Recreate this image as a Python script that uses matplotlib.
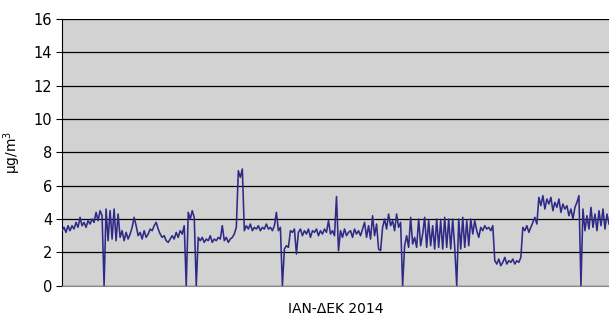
import numpy as np
import matplotlib.pyplot as plt

# concentration, one value per ~2 px step (Jan -> Dec)
conc = [
    3.3, 3.5, 3.2, 3.6, 3.3,
    3.6, 3.4, 3.8, 3.5, 4.1, 3.6, 3.8, 3.5, 3.9, 3.7,
    4.0, 3.8, 4.4, 3.9, 4.5, 4.2,
    0.0,
    4.6, 2.7, 4.5, 2.8, 4.6, 2.7, 4.3, 2.9,
    3.3, 2.7, 3.2, 2.8, 3.1,
    3.5, 4.1, 3.6, 3.0,
    3.2, 2.8, 3.3, 2.9, 3.1, 3.4, 3.3,
    3.6, 3.8, 3.4,
    3.1, 2.9, 3.0, 2.7, 2.6, 2.8,
    3.0, 2.8, 3.2, 2.9, 3.3, 3.1, 3.6,
    0.0,
    4.4, 4.0, 4.5, 4.1,
    0.0,
    2.9,
    2.7, 2.9, 2.6, 2.8, 2.7, 3.0, 2.6, 2.8, 2.7, 2.9, 2.8, 3.6, 2.7, 2.9, 2.6, 2.8, 2.9, 3.1, 3.5,
    6.9, 6.5, 7.0,
    3.3, 3.6, 3.4, 3.7, 3.3, 3.5, 3.4, 3.6, 3.3, 3.5, 3.4, 3.7, 3.4, 3.5, 3.3, 3.6, 4.4, 3.3, 3.5,
    0.0,
    2.2, 2.4, 2.3,
    3.3, 3.2, 3.4,
    1.9,
    3.2, 3.4, 3.0, 3.3, 3.1, 3.4, 2.9, 3.3, 3.2, 3.4, 3.0, 3.3, 3.1, 3.4, 3.2, 3.9, 3.1, 3.3, 3.0,
    5.35,
    2.1,
    3.3, 2.9, 3.4, 3.0, 3.2, 3.3, 2.9, 3.4, 3.1, 3.3, 3.0, 3.4,
    3.8, 2.9, 3.6, 2.8, 4.2, 3.0, 3.7,
    2.2, 2.1,
    3.5, 4.0, 3.4, 4.3, 3.6, 3.9, 3.3, 4.3, 3.5, 3.8,
    0.0,
    2.4, 3.0, 2.3, 4.1, 2.5, 2.9, 2.3, 4.0, 2.4, 3.1, 4.1,
    2.3, 3.9, 2.4, 3.6, 2.2, 4.0, 2.3, 3.9, 2.2, 4.1, 2.3, 4.0, 2.2, 4.0, 2.3,
    0.0,
    4.0, 2.2, 4.1, 2.3, 3.9, 2.4, 4.0,
    3.1, 3.9, 3.3, 2.9, 3.5, 3.3, 3.6, 3.4, 3.5, 3.3, 3.6,
    1.5, 1.3, 1.6, 1.2, 1.4, 1.7, 1.3, 1.5, 1.4, 1.6, 1.3, 1.5, 1.4, 1.7,
    3.5, 3.3, 3.6, 3.2, 3.5, 3.8, 4.1, 3.7,
    5.3, 4.8, 5.4, 4.6, 5.2, 4.9, 5.3, 4.5, 5.0, 4.7, 5.2, 4.4, 4.9, 4.6, 4.8, 4.2, 4.6, 4.0, 4.7, 5.0, 5.4,
    0.0,
    4.6, 3.3, 4.2, 3.4, 4.7, 3.5, 4.3, 3.3, 4.5, 3.6, 4.6, 3.4, 4.3, 3.7,
]
y_ticks = [0, 2, 4, 6, 8, 10, 12, 14, 16]
x_label = 'ΙΑΝ-ΔΕΚ 2014'
y_label = 'μg/m$^3$'

x = np.arange(len(conc))

fig = plt.figure(figsize=(6.09, 3.23), dpi=100)
ax = fig.add_axes([62 / 609, 37.3 / 323, 547 / 609, 266.7 / 323])
ax.set_facecolor('#d2d2d2')

ax.plot(x, conc, color='#2f2a86', lw=1.15, zorder=3)

ax.set_xlim(0, len(conc) - 1)
ax.set_ylim(0, 16)
ax.set_yticks(y_ticks)
ax.set_xticks([])
ax.grid(axis='y', color='black', lw=0.9)
ax.set_axisbelow(True)

for s in ['top', 'right']:
    ax.spines[s].set_visible(False)
ax.spines['left'].set_color('black')
ax.spines['bottom'].set_color('#888888')
ax.tick_params(axis='y', length=4, labelsize=10.5, pad=3)

ax.set_ylabel(y_label, fontsize=10, labelpad=8)
ax.set_xlabel(x_label, fontsize=10, labelpad=12)

fig.savefig('out.png', dpi=100)
